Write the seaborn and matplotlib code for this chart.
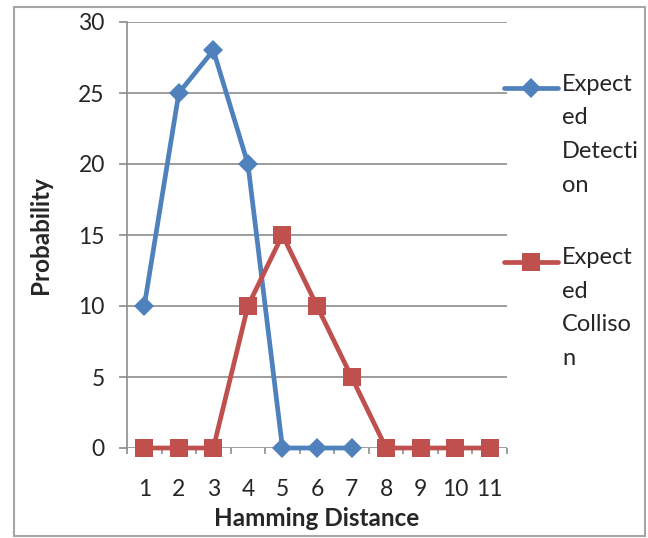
import numpy as np
import pandas as pd
import matplotlib
matplotlib.use("Agg")
import matplotlib.pyplot as plt
import seaborn as sns
from matplotlib.lines import Line2D
from matplotlib.patches import Rectangle

# dati
distanza = [1, 2, 3, 4, 5, 6, 7, 8, 9, 10, 11]
rilevamento = [10, 25, 28, 20, 0, 0, 0]
collisione = [0, 0, 0, 10, 15, 10, 5, 0, 0, 0, 0]
y_ticks = [0, 5, 10, 15, 20, 25, 30]
etichette = ["Expect\ned\nDetecti\non", "Expect\ned\nColliso\nn"]

blu = "#4F81BD"
rosso = "#C0504D"
grigio = "#8C8C8C"

sns.set_style("white")
plt.rcParams["font.family"] = ["Lato", "DejaVu Sans"]

W, H = 648, 538
fig = plt.figure(figsize=(W / 100, H / 100), dpi=100)
ax = fig.add_axes([127 / W, 1 - 448 / H, 380 / W, 426 / H])

df_det = pd.DataFrame({"Distanza": distanza[:len(rilevamento)], "Valore": rilevamento})
df_col = pd.DataFrame({"Distanza": distanza, "Valore": collisione})

sns.lineplot(data=df_det, x="Distanza", y="Valore", ax=ax, color=blu, linewidth=3.4,
             marker="D", markersize=10.5, markeredgewidth=0, clip_on=False, zorder=4)
sns.lineplot(data=df_col, x="Distanza", y="Valore", ax=ax, color=rosso, linewidth=3.4,
             marker="s", markersize=13.5, markeredgewidth=0, clip_on=False, zorder=5)

ax.set_xlim(0.5, 11.5)
ax.set_ylim(0, 30)
ax.set_yticks(y_ticks)
ax.set_xticks(distanza)
ax.set_xticks(np.arange(0.5, 12, 1), minor=True)

ax.grid(axis="y", color=grigio, linewidth=1.2)
ax.set_axisbelow(True)
for s in ["top", "right", "bottom"]:
    ax.spines[s].set_visible(False)
ax.spines["left"].set_color(grigio)
ax.spines["left"].set_linewidth(1.2)

ax.tick_params(axis="y", length=6, width=1.2, color=grigio, pad=10, labelsize=16.5, left=True)
ax.tick_params(axis="x", which="major", length=0, pad=22, labelsize=16.5)
ax.tick_params(axis="x", which="minor", length=4.5, width=1.2, color=grigio, bottom=True)

ax.set_xlabel("Hamming Distance", fontsize=17.5, fontweight="bold")
ax.set_ylabel("Probability", fontsize=17.5, fontweight="bold")
ax.xaxis.set_label_coords(0.5, (448 - 519) / 426)
ax.xaxis.label.set_va("center")
ax.yaxis.set_label_coords((40 - 127) / 380, 0.5)
ax.yaxis.label.set_va("center")

# legenda a destra, stile Excel (y = linea del simbolo, baseline dell'ultima riga)
for colore, marcatore, ms, y_linea, y_base, testo in [
    (blu, "D", 10.5, 88, 192, etichette[0]),
    (rosso, "s", 13.5, 262, 365, etichette[1]),
]:
    fig.add_artist(Line2D([504 / W, 558 / W], [1 - y_linea / H] * 2, color=colore, linewidth=3.4,
                          transform=fig.transFigure))
    fig.add_artist(Line2D([531 / W], [1 - y_linea / H], color=colore, marker=marcatore,
                          markersize=ms, markeredgewidth=0, transform=fig.transFigure))
    fig.text(562 / W, 1 - y_base / H, testo, fontsize=17, va="baseline", ha="left",
             linespacing=1.75)

fig.add_artist(Rectangle((14 / W, 1 - 536 / H), 631 / W, 529 / H, fill=False,
                         edgecolor="#A6A6A6", linewidth=1.5, transform=fig.transFigure))

fig.savefig("out.png", dpi=100)
